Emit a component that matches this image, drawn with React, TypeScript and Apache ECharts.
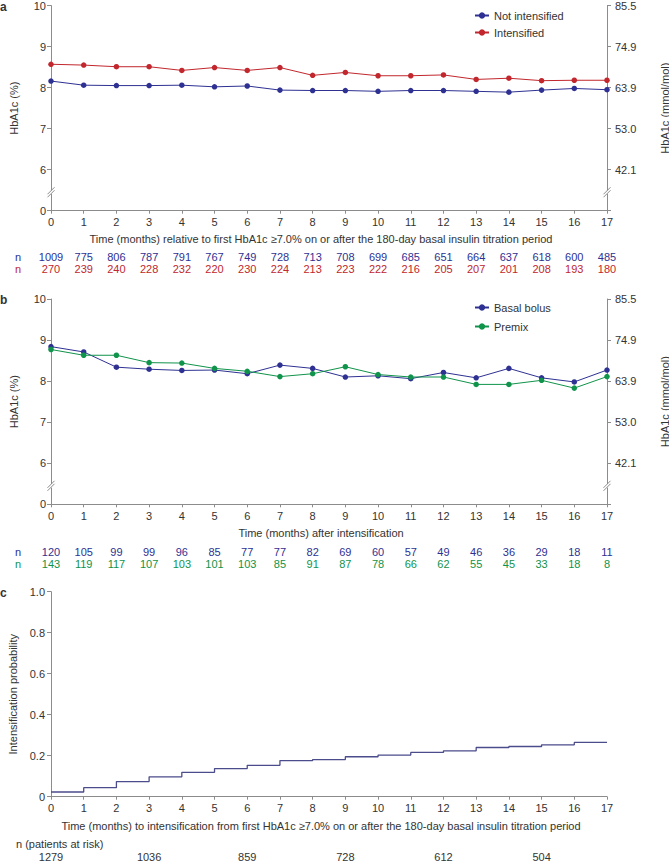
import React, { useEffect, useRef } from 'react';
import * as echarts from 'echarts';

const months = [0, 1, 2, 3, 4, 5, 6, 7, 8, 9, 10, 11, 12, 13, 14, 15, 16, 17];
const notIntensified = [8.16, 8.06, 8.05, 8.05, 8.06, 8.02, 8.04, 7.94, 7.93, 7.93, 7.91, 7.93, 7.93, 7.91, 7.89, 7.94, 7.98, 7.95];
const intensified = [8.57, 8.55, 8.51, 8.51, 8.42, 8.49, 8.42, 8.49, 8.30, 8.37, 8.29, 8.29, 8.31, 8.20, 8.23, 8.17, 8.18, 8.18];
const basalBolus = [8.84, 8.71, 8.34, 8.29, 8.26, 8.27, 8.18, 8.39, 8.31, 8.10, 8.13, 8.06, 8.21, 8.08, 8.31, 8.08, 7.98, 8.27];
const premix = [8.77, 8.63, 8.63, 8.45, 8.44, 8.31, 8.24, 8.11, 8.18, 8.35, 8.16, 8.10, 8.10, 7.92, 7.92, 8.02, 7.83, 8.11];
const nNotIntensified = [1009, 775, 806, 787, 791, 767, 749, 728, 713, 708, 699, 685, 651, 664, 637, 618, 600, 485];
const nIntensified = [270, 239, 240, 228, 232, 220, 230, 224, 213, 223, 222, 216, 205, 207, 201, 208, 193, 180];
const nBasalBolus = [120, 105, 99, 99, 96, 85, 77, 77, 82, 69, 60, 57, 49, 46, 36, 29, 18, 11];
const nPremix = [143, 119, 117, 107, 103, 101, 103, 85, 91, 87, 78, 66, 62, 55, 45, 33, 18, 8];
const kmProbability = [0.023, 0.044, 0.074, 0.097, 0.119, 0.137, 0.153, 0.176, 0.181, 0.195, 0.203, 0.216, 0.224, 0.240, 0.245, 0.253, 0.265, 0.265];
const atRiskMonths = [0, 3, 6, 9, 12, 15];
const atRisk = [1279, 1036, 859, 728, 612, 504];
const hbTicks = [5, 6, 7, 8, 9, 10];
const pctLabels = ['0', '6', '7', '8', '9', '10'];
const mmolLabels = ['', '42.1', '53.0', '63.9', '74.9', '85.5'];

const FONT = '"Liberation Sans", Arial, sans-serif';
const TEXT = '#333333';
const AXIS = '#8c8c8c';
const BLUE = '#2E3192';
const RED = '#C1272D';
const GREEN = '#10934A';
const KM = '#4B4C8C';

const pairs = (vals: number[]) => months.map((m, i) => [m, vals[i]]);

function mainX(gridIndex: number) {
  return {
    gridIndex, type: 'value', min: 0, max: 17, interval: 1, position: 'bottom',
    axisLine: { show: true, onZero: false, lineStyle: { color: AXIS, width: 1 } },
    axisTick: { show: true, length: 3, lineStyle: { color: AXIS } },
    splitLine: { show: false },
    axisLabel: { fontSize: 11, color: TEXT, margin: 6, fontFamily: FONT },
  };
}

function nX(gridIndex: number, offset: number, arr: number[], color: string) {
  return {
    gridIndex, type: 'value', min: 0, max: 17, interval: 1, position: 'bottom', offset,
    axisLine: { show: false, onZero: false }, axisTick: { show: false }, splitLine: { show: false },
    axisLabel: {
      fontSize: 11, color, margin: 0, fontFamily: FONT,
      formatter: (v: number) => (arr[months.indexOf(v)] !== undefined ? String(arr[months.indexOf(v)]) : ''),
    },
  };
}

function hbLeft(gridIndex: number) {
  return {
    gridIndex, type: 'value', min: 5, max: 10, interval: 1, position: 'left',
    axisLine: { show: true, onZero: false, lineStyle: { color: AXIS } },
    axisTick: { show: true, length: 4, lineStyle: { color: AXIS } },
    splitLine: { show: false },
    axisLabel: { fontSize: 11, lineHeight: 11, color: TEXT, margin: 5, fontFamily: FONT, formatter: (v: number) => pctLabels[hbTicks.indexOf(v)] ?? '' },
    name: 'HbA1c (%)', nameLocation: 'middle', nameGap: 32, nameRotate: 90,
    nameTextStyle: { fontSize: 11, color: TEXT, fontFamily: FONT },
  };
}

function hbRight(gridIndex: number) {
  return {
    gridIndex, type: 'value', min: 5, max: 10, interval: 1, position: 'right',
    axisLine: { show: true, onZero: false, lineStyle: { color: AXIS } },
    axisTick: { show: true, length: 4, lineStyle: { color: AXIS } },
    splitLine: { show: false },
    axisLabel: { fontSize: 11, lineHeight: 11, color: TEXT, margin: 8, fontFamily: FONT, formatter: (v: number) => mmolLabels[hbTicks.indexOf(v)] ?? '' },
    name: 'HbA1c (mmol/mol)', nameLocation: 'middle', nameGap: 52, nameRotate: 90,
    nameTextStyle: { fontSize: 11, color: TEXT, fontFamily: FONT },
  };
}

function lineSeries(name: string, vals: number[], color: string, xi: number, yi: number) {
  return {
    name, type: 'line', xAxisIndex: xi, yAxisIndex: yi, data: pairs(vals),
    symbol: 'circle', symbolSize: 5.5, showSymbol: true,
    lineStyle: { color, width: 1 }, itemStyle: { color },
  };
}

function txt(text: string, x: number, y: number, opts: any = {}) {
  return {
    type: 'text', x, y, silent: true,
    style: { text, fill: opts.fill || TEXT, font: `${opts.weight || 'normal'} ${opts.size || 11}px ${FONT}`, align: opts.align || 'left', verticalAlign: 'middle' },
  };
}

function breakMark(p: number[]) {
  const [x, y] = p;
  return [
    { type: 'rect', shape: { x: x - 2, y: y - 1.8, width: 4, height: 3.6 }, style: { fill: '#ffffff' }, silent: true, z: 100 },
    { type: 'line', shape: { x1: x - 3.5, y1: y + 5, x2: x + 3.5, y2: y - 2 }, style: { stroke: AXIS, lineWidth: 1 }, silent: true, z: 101 },
    { type: 'line', shape: { x1: x - 3.5, y1: y + 2, x2: x + 3.5, y2: y - 5 }, style: { stroke: AXIS, lineWidth: 1 }, silent: true, z: 101 },
  ];
}

export default function App() {
  const ref = useRef<HTMLDivElement>(null);
  useEffect(() => {
    if (!ref.current) return;
    const chart = echarts.init(ref.current, undefined, { renderer: 'svg' });
    const option: any = {
      animation: false,
      textStyle: { fontFamily: FONT },
      grid: [
        { left: 51, right: 62, top: 5.6, height: 205.1, outerBoundsMode: 'none', containLabel: false },
        { left: 51, right: 62, top: 299, height: 205.3, outerBoundsMode: 'none', containLabel: false },
        { left: 51, right: 62, top: 591.7, height: 205, outerBoundsMode: 'none', containLabel: false },
      ],
      legend: [
        {
          data: ['Not intensified', 'Intensified'], orient: 'vertical', left: 474, top: 10, padding: 0,
          itemWidth: 14, itemHeight: 8, itemGap: 6, textStyle: { fontSize: 11, color: TEXT, fontFamily: FONT },
        },
        {
          data: ['Basal bolus', 'Premix'], orient: 'vertical', left: 474, top: 302, padding: 0,
          itemWidth: 14, itemHeight: 8, itemGap: 8, textStyle: { fontSize: 11, color: TEXT, fontFamily: FONT },
        },
      ],
      xAxis: [
        mainX(0),
        nX(0, 40.5, nNotIntensified, BLUE),
        nX(0, 53, nIntensified, RED),
        mainX(1),
        nX(1, 42, nBasalBolus, BLUE),
        nX(1, 54.3, nPremix, GREEN),
        mainX(2),
        {
          gridIndex: 2, type: 'value', min: 0, max: 17, interval: 1, position: 'bottom', offset: 55,
          axisLine: { show: false, onZero: false }, axisTick: { show: false }, splitLine: { show: false },
          axisLabel: {
            fontSize: 11, color: TEXT, margin: 0, fontFamily: FONT,
            formatter: (v: number) => { const i = atRiskMonths.indexOf(v); return i >= 0 ? String(atRisk[i]) : ''; },
          },
        },
      ],
      yAxis: [
        hbLeft(0), hbRight(0), hbLeft(1), hbRight(1),
        {
          gridIndex: 2, type: 'value', min: 0, max: 1, interval: 0.2, position: 'left',
          axisLine: { show: true, onZero: false, lineStyle: { color: AXIS } },
          axisTick: { show: true, length: 4, lineStyle: { color: AXIS } },
          splitLine: { show: false },
          axisLabel: { fontSize: 11, color: TEXT, margin: 6, fontFamily: FONT, formatter: (v: number) => (v === 0 ? '0' : v.toFixed(1)) },
          name: 'Intensification probability', nameLocation: 'middle', nameGap: 32, nameRotate: 90,
          nameTextStyle: { fontSize: 11, color: TEXT, fontFamily: FONT },
        },
      ],
      series: [
        lineSeries('Not intensified', notIntensified, BLUE, 0, 0),
        lineSeries('Intensified', intensified, RED, 0, 0),
        lineSeries('Basal bolus', basalBolus, BLUE, 3, 2),
        lineSeries('Premix', premix, GREEN, 3, 2),
        {
          name: 'KM', type: 'line', xAxisIndex: 6, yAxisIndex: 4, data: pairs(kmProbability), step: 'end',
          showSymbol: false, symbol: 'none', lineStyle: { color: KM, width: 1.3 },
        },
      ],
    };
    chart.setOption(option);

    const pa1 = chart.convertToPixel({ seriesIndex: 0 }, [0, 5.45]) as number[];
    const pa2 = chart.convertToPixel({ seriesIndex: 0 }, [17, 5.45]) as number[];
    const pb1 = chart.convertToPixel({ seriesIndex: 2 }, [0, 5.45]) as number[];
    const pb2 = chart.convertToPixel({ seriesIndex: 2 }, [17, 5.45]) as number[];

    const graphic: any[] = [
      txt('a', 0, 7, { weight: 'bold', size: 12 }),
      txt('b', 0, 300, { weight: 'bold', size: 12 }),
      txt('c', 0, 593, { weight: 'bold', size: 12 }),
      txt('Time (months) relative to first HbA1c \u22657.0% on or after the 180-day basal insulin titration period', 321, 239.3, { align: 'center' }),
      txt('Time (months) after intensification', 321, 533.3, { align: 'center' }),
      txt('Time (months) to intensification from first HbA1c \u22657.0% on or after the 180-day basal insulin titration period', 321, 825.7, { align: 'center' }),
      txt('n', 18, 256.7, { fill: BLUE, align: 'center' }),
      txt('n', 18, 269.3, { fill: RED, align: 'center' }),
      txt('n', 18, 551.7, { fill: BLUE, align: 'center' }),
      txt('n', 18, 564, { fill: GREEN, align: 'center' }),
      txt('n (patients at risk)', 16, 843.5),
      ...breakMark(pa1), ...breakMark(pa2), ...breakMark(pb1), ...breakMark(pb2),
    ];
    chart.setOption({ graphic });
    return () => chart.dispose();
  }, []);
  return <div ref={ref} style={{ position: 'absolute', left: 0, top: 0, width: 669, height: 862 }} />;
}
